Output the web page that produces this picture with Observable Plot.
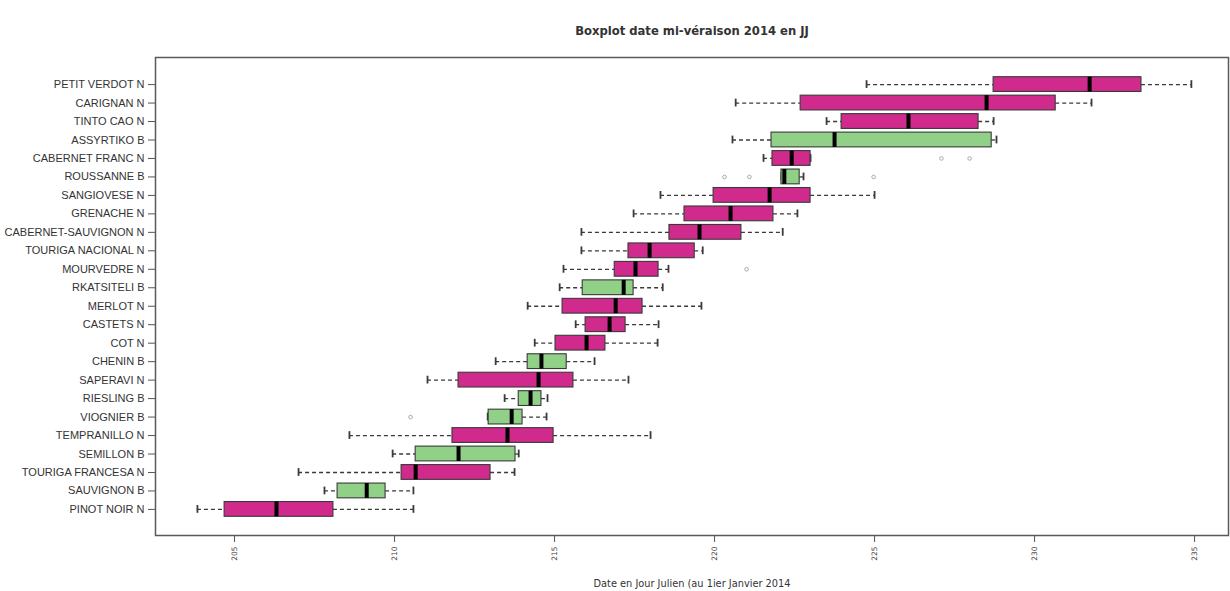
<!DOCTYPE html>
<html>
<head>
<meta charset="utf-8">
<script src="https://cdn.jsdelivr.net/npm/d3@7"></script>
<script src="https://cdn.jsdelivr.net/npm/@observablehq/plot@0.6"></script>
<style>
  html, body { margin: 0; padding: 0; background: #ffffff; overflow: hidden; }
  #chart svg { display: block; }
</style>
</head>
<body>
<div id="chart"></div>
<script>
// Cépages, du haut vers le bas
const cepages = [
  "PETIT VERDOT N", "CARIGNAN N", "TINTO CAO N", "ASSYRTIKO B", "CABERNET FRANC N",
  "ROUSSANNE B", "SANGIOVESE N", "GRENACHE N", "CABERNET-SAUVIGNON N", "TOURIGA NACIONAL N",
  "MOURVEDRE N", "RKATSITELI B", "MERLOT N", "CASTETS N", "COT N",
  "CHENIN B", "SAPERAVI N", "RIESLING B", "VIOGNIER B", "TEMPRANILLO N",
  "SEMILLON B", "TOURIGA FRANCESA N", "SAUVIGNON B", "PINOT NOIR N"
];
const whiskerLow = [224.75, 220.66, 223.5, 220.56, 221.53, 222.09, 218.31, 217.47, 215.84, 215.84,
  215.28, 215.16, 214.16, 215.66, 214.38, 213.16, 211.03, 213.44, 212.91, 208.59, 209.94, 207.0, 207.81, 203.84];
const q1 = [228.72, 222.69, 223.97, 221.78, 221.81, 222.09, 219.97, 219.06, 218.59, 217.31,
  216.88, 215.88, 215.25, 215.97, 215.03, 214.16, 212.0, 213.88, 212.94, 211.81, 210.66, 210.22, 208.22, 204.69];
const medianes = [231.72, 228.5, 226.06, 223.75, 222.41, 222.18, 221.72, 220.5, 219.53, 217.97,
  217.53, 217.16, 216.91, 216.72, 216.0, 214.59, 214.5, 214.25, 213.66, 213.53, 212.0, 210.66, 209.13, 206.31];
const q3 = [233.34, 230.66, 228.25, 228.66, 223.0, 222.66, 223.0, 221.84, 220.84, 219.38,
  218.25, 217.47, 217.75, 217.22, 216.59, 215.38, 215.59, 214.59, 214.0, 214.97, 213.78, 213.0, 209.72, 208.09];
const whiskerHigh = [234.9, 231.78, 228.72, 228.81, 223.0, 222.78, 225.0, 222.59, 222.13, 219.63,
  218.56, 218.38, 219.59, 218.25, 218.22, 216.25, 217.31, 214.78, 214.75, 218.0, 213.88, 213.75, 210.59, 210.59];
// valeurs extrêmes
const outlierCepage = ["CABERNET FRANC N", "CABERNET FRANC N", "ROUSSANNE B", "ROUSSANNE B", "ROUSSANNE B", "MOURVEDRE N", "VIOGNIER B"];
const outlierValue = [227.09, 227.97, 220.31, 221.09, 224.97, 221.0, 210.5];
const xTicks = [205, 210, 215, 220, 225, 230, 235];

const title = "Boxplot date mi-véraison 2014 en JJ";
const xLabel = "Date en Jour Julien (au 1ier Janvier 2014";

const colorN = "#cf2a8c";
const colorB = "#90d087";

const rows = cepages.map((c, i) => ({
  name: c, low: whiskerLow[i], q1: q1[i], med: medianes[i], q3: q3[i], high: whiskerHigh[i],
  color: c.endsWith(" B") ? colorB : colorN
}));
const outliers = outlierCepage.map((c, i) => ({name: c, value: outlierValue[i]}));

const ink = "#3a3a3a";
const chart = Plot.plot({
  width: 1230,
  height: 591,
  marginLeft: 155,
  marginRight: 2,
  marginTop: 57,
  marginBottom: 56,
  style: {fontFamily: "DejaVu Sans, Verdana, sans-serif", background: "#ffffff", color: "#333"},
  x: {domain: [202.53, 236.06]},
  y: {domain: cepages, padding: 0.2, round: false, insetTop: 16, insetBottom: 15},
  marks: [
    Plot.frame({stroke: "#5a5a5a", strokeWidth: 1.5}),
    Plot.axisY({tickSize: 7, tickPadding: 4, fontSize: 11, fontFamily: "Liberation Sans, Arial, sans-serif", label: null, stroke: "#555", fill: "#333"}),
    Plot.axisX({ticks: xTicks, tickFormat: d3.format("d"), tickRotate: -90, tickSize: 7, tickPadding: 4, fontSize: 7.5, label: null, stroke: "#555", fill: "#444"}),
    Plot.ruleY(rows, {y: "name", x1: "low", x2: "q1", stroke: ink, strokeWidth: 1.3, strokeDasharray: "4,3"}),
    Plot.ruleY(rows, {y: "name", x1: "q3", x2: "high", stroke: ink, strokeWidth: 1.3, strokeDasharray: "4,3"}),
    Plot.tickX(rows, {x: "low", y: "name", stroke: ink, strokeWidth: 1.8, insetTop: 3.5, insetBottom: 3.5}),
    Plot.tickX(rows, {x: "high", y: "name", stroke: ink, strokeWidth: 1.8, insetTop: 3.5, insetBottom: 3.5}),
    Plot.barX(rows, {y: "name", x1: "q1", x2: "q3", fill: "color", stroke: ink, strokeWidth: 1.1}),
    Plot.tickX(rows, {x: "med", y: "name", stroke: "#000", strokeWidth: 4}),
    Plot.dot(outliers, {x: "value", y: "name", r: 1.8, stroke: "#aaa", strokeWidth: 1}),
    Plot.text([title], {frameAnchor: "top", dy: -31, fontSize: 11.6, fontWeight: "bold", fill: "#333"}),
    Plot.text([xLabel], {frameAnchor: "bottom", dy: 51, fontSize: 9.8, fill: "#333"})
  ]
});
document.getElementById("chart").appendChild(chart);
</script>
</body>
</html>
